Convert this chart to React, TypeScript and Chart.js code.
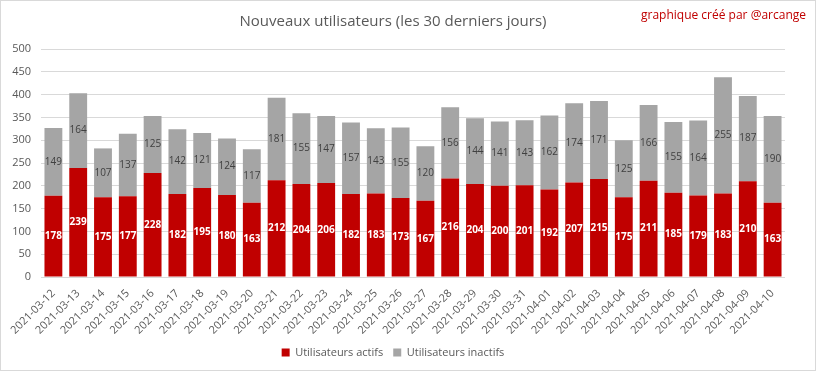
import React, { useEffect, useRef } from "react";
import { Chart, registerables } from "chart.js";

Chart.register(...registerables);

const dates = [
  "2021-03-12", "2021-03-13", "2021-03-14", "2021-03-15", "2021-03-16", "2021-03-17",
  "2021-03-18", "2021-03-19", "2021-03-20", "2021-03-21", "2021-03-22", "2021-03-23",
  "2021-03-24", "2021-03-25", "2021-03-26", "2021-03-27", "2021-03-28", "2021-03-29",
  "2021-03-30", "2021-03-31", "2021-04-01", "2021-04-02", "2021-04-03", "2021-04-04",
  "2021-04-05", "2021-04-06", "2021-04-07", "2021-04-08", "2021-04-09", "2021-04-10",
];

const activeUsers = [
  178, 239, 175, 177, 228, 182, 195, 180, 163, 212, 204, 206, 182, 183, 173,
  167, 216, 204, 200, 201, 192, 207, 215, 175, 211, 185, 179, 183, 210, 163,
];

const inactiveUsers = [
  149, 164, 107, 137, 125, 142, 121, 124, 117, 181, 155, 147, 157, 143, 155,
  120, 156, 144, 141, 143, 162, 174, 171, 125, 166, 155, 164, 255, 187, 190,
];

const FONT = "'Open Sans', 'Noto Sans', sans-serif";

const labelPlugin = {
  id: "barLabels",
  afterDatasetsDraw(chart: any) {
    const ctx = chart.ctx;
    chart.data.datasets.forEach((ds: any, i: number) => {
      const meta = chart.getDatasetMeta(i);
      meta.data.forEach((el: any, j: number) => {
        const v = ds.data[j];
        const cy = (el.y + el.base) / 2;
        ctx.save();
        ctx.textAlign = "center";
        ctx.textBaseline = "middle";
        if (i === 0) {
          ctx.fillStyle = "#ffffff";
          ctx.font = `bold 10px ${FONT}`;
        } else {
          ctx.fillStyle = "#404040";
          ctx.font = `10px ${FONT}`;
        }
        ctx.fillText(String(v), el.x, cy);
        ctx.restore();
      });
    });
  },
};

export default function App() {
  const ref = useRef<HTMLCanvasElement>(null);

  useEffect(() => {
    document.body.style.margin = "0";
    const chart = new Chart(ref.current!, {
      type: "bar",
      data: {
        labels: dates,
        datasets: [
          {
            label: "Utilisateurs actifs",
            data: activeUsers,
            backgroundColor: "#c00000",
            categoryPercentage: 1,
            barPercentage: 0.72,
          },
          {
            label: "Utilisateurs inactifs",
            data: inactiveUsers,
            backgroundColor: "#a5a5a5",
            categoryPercentage: 1,
            barPercentage: 0.72,
          },
        ],
      },
      options: {
        animation: false,
        responsive: false,
        maintainAspectRatio: false,
        layout: { padding: { left: 0, right: 30, top: 0, bottom: 2 } },
        scales: {
          x: {
            stacked: true,
            grid: { display: false },
            border: { display: false },
            ticks: {
              color: "#595959",
              font: { family: FONT, size: 11 },
              minRotation: 45,
              maxRotation: 45,
              autoSkip: false,
              padding: 2,
            },
            afterFit: (s: any) => {
              s.height = 60;
            },
          },
          y: {
            stacked: true,
            min: 0,
            max: 500,
            grid: { color: "#d9d9d9", drawTicks: false },
            border: { display: false },
            ticks: {
              stepSize: 50,
              color: "#595959",
              font: { family: FONT, size: 11 },
              padding: 10,
            },
            afterFit: (s: any) => {
              s.width = 40;
            },
          },
        },
        plugins: {
          title: {
            display: true,
            text: "Nouveaux utilisateurs (les 30 derniers jours)",
            color: "#595959",
            font: { family: FONT, size: 15, weight: "normal" },
            padding: { top: 12, bottom: 18 },
          },
          legend: {
            position: "bottom",
            labels: {
              color: "#595959",
              font: { family: FONT, size: 11 },
              boxWidth: 8,
              boxHeight: 8,
              padding: 10,
            },
          },
          tooltip: { enabled: false },
        },
      },
      plugins: [labelPlugin],
    });
    return () => chart.destroy();
  }, []);

  return (
    <div
      style={{
        position: "relative",
        width: 816,
        height: 371,
        boxSizing: "border-box",
        border: "1px solid #d9d9d9",
        background: "#fff",
      }}
    >
      <canvas ref={ref} width={814} height={369} style={{ display: "block" }} />
      <div
        style={{
          position: "absolute",
          top: 5,
          right: 9,
          color: "#c00000",
          fontFamily: FONT,
          fontSize: 12,
        }}
      >
        graphique créé par @arcange
      </div>
    </div>
  );
}
